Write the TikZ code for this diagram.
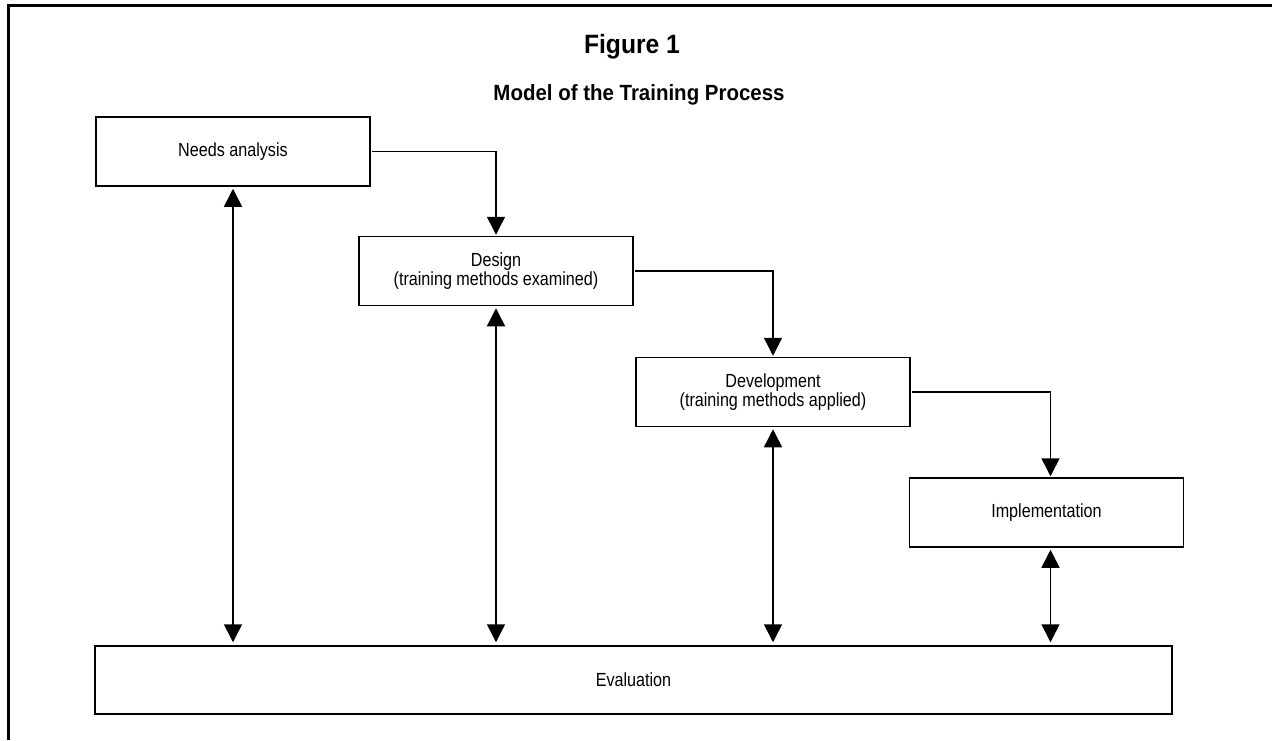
\documentclass[tikz,border=0pt]{standalone}
\usepackage{fontspec}
\setmainfont{Liberation Sans}[FakeStretch=0.85]
\newfontfamily\headfont{Liberation Sans}[FakeStretch=0.93]
\usetikzlibrary{arrows.meta}
\usetikzlibrary{positioning}
\tikzset{stage/.style = {draw, line width = 1.5, minimum width = 274, minimum height = 69, inner sep = 0, align = center, font = \fontsize{19}{18.5}\selectfont}}
\tikzset{flow/.style = {line width = 1.5, -{Triangle[width = 18pt, length = 18pt]}, shorten < = 1.5, shorten > = 1}}
\tikzset{link/.style = {line width = 1.5, {Triangle[width = 18pt, length = 18pt]}-{Triangle[width = 18pt, length = 18pt]}, shorten < = 2, shorten > = 3}}
\tikzset{heading/.style = {anchor = base, inner sep = 0}}

\begin{document}
\begin{tikzpicture}[x = 1pt, y = -1pt]
    \useasboundingbox (0, 0) rectangle (1272, 740);
    \draw [line width = 3] (8.5, 740) -- (8.5, 5.3) -- (1272, 5.3);

    \node [heading, font = \headfont\bfseries\fontsize{26.5}{30}\selectfont] (fig) at (632, 53) {Figure 1};
    \node [heading, font = \headfont\bfseries\fontsize{22}{26}\selectfont] (caption) at (639, 100) {Model of the Training Process};

    \node [stage] (needs) at (233, 151.5) {Needs analysis};
    \node [stage] (design) at (496, 271) {Design\\(training methods examined)};
    \node [stage] (develop) at (773, 392) {Development\\(training methods applied)};
    \node [stage] (implement) at (1046.5, 512.5) {Implementation};
    \node [stage, minimum width = 1077, minimum height = 68] (eval) at (633.5, 680) {Evaluation};

    \draw [flow] (needs.east) -| (design.north);
    \draw [flow] (design.east) -| (develop.north);
    \draw [flow] (develop.east) -| ([xshift = 4] implement.north);

    \draw [link] (needs.south) -- (needs.south |- eval.north);
    \draw [link] (design.south) -- (design.south |- eval.north);
    \draw [link] (develop.south) -- (develop.south |- eval.north);
    \draw [link] ([xshift = 4] implement.south) -- ([xshift = 4] implement.south |- eval.north);
\end{tikzpicture}
\end{document}
